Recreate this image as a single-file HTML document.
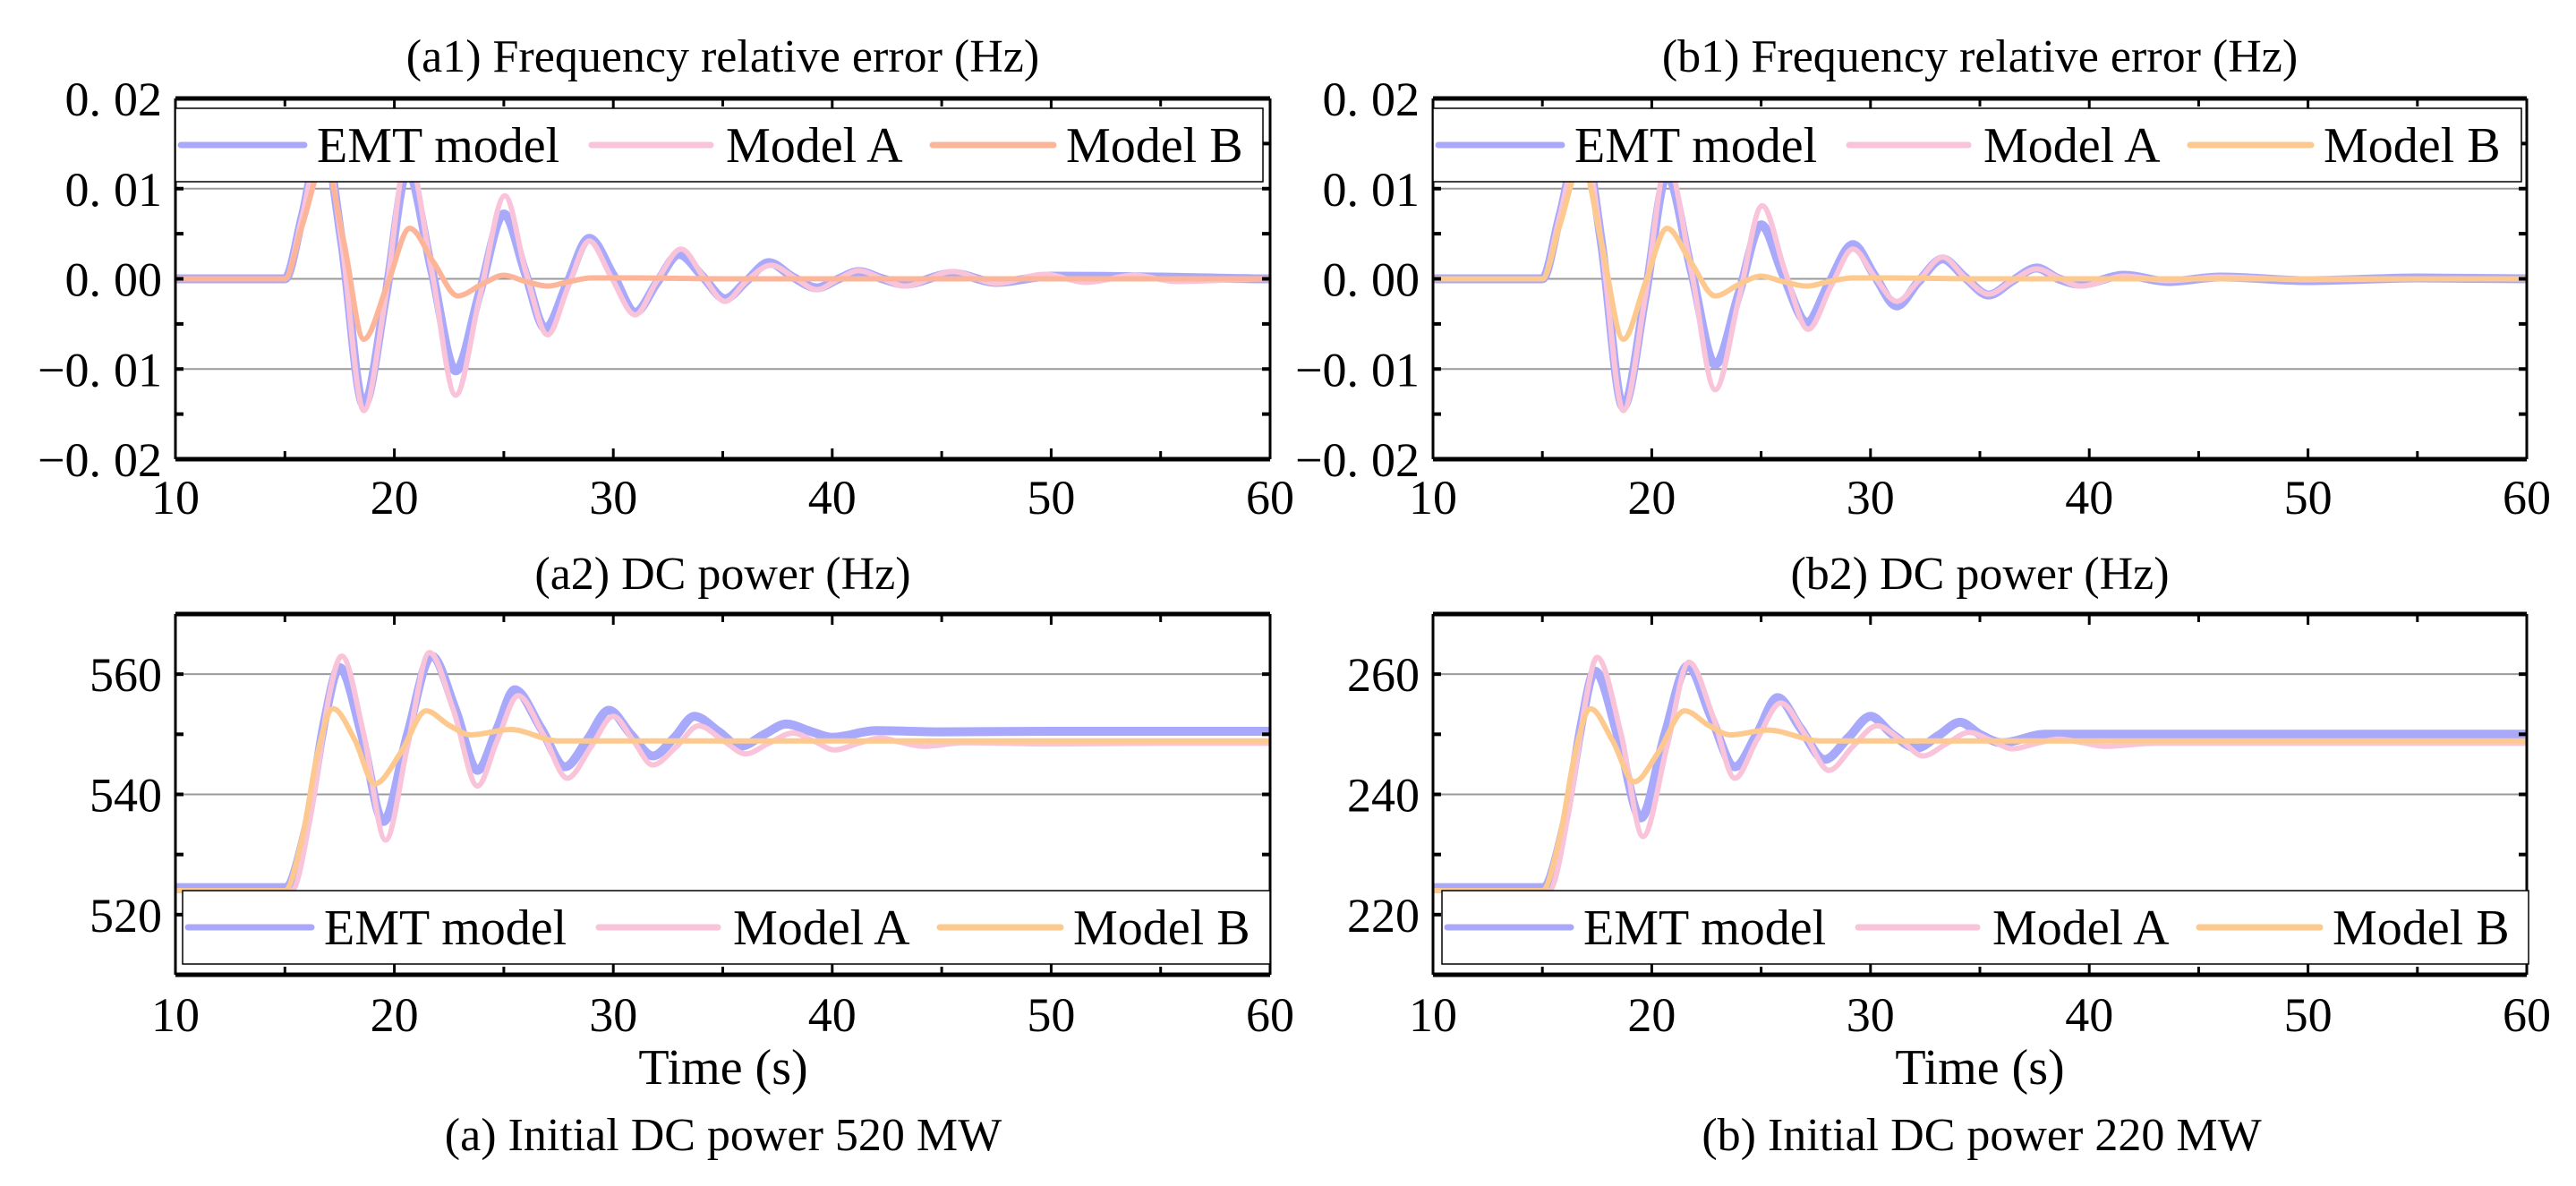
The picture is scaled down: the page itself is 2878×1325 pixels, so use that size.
<!DOCTYPE html>
<html><head><meta charset="utf-8">
<style>
html,body{margin:0;padding:0;background:#fff;}
svg, svg text{font-family:"Liberation Serif","Times New Roman",Times,serif;}
</style></head>
<body>
<svg id="fig" width="2878" height="1320" viewBox="0 0 2878 1320" xmlns="http://www.w3.org/2000/svg" font-family="Liberation Serif, serif"></svg>
<script>
// ---------- data ----------
const xTicks = [10,20,30,40,50,60];
const freqTicks = [-0.02,-0.01,0.00,0.01,0.02];
const freqTickLabels = ["\u22120.02","\u22120.01","0.00","0.01","0.02"];
const powATicks = [520,540,560];
const powBTicks = [220,240,260];
const seriesNames = ["EMT model","Model A","Model B"];

// (a1) frequency error, 520 MW
const a1EmtT = [10,14,15,15.8,16.7,17.6,18.6,19.6,20.6,21.7,22.8,23.9,25,26,26.9,27.9,28.9,30,31,32,33,34.1,35.1,36.1,37.1,38.2,39.3,40.3,41.2,42.3,43.3,45.5,47.5,50,55,60];
const a1EmtV = [0,0,0,0.007,0.016,0.004,-0.014,-0.002,0.012,0.001,-0.0102,-0.0015,0.0072,0.0005,-0.0055,-0.0005,0.0045,0.0004,-0.0037,-0.0004,0.0027,0.0002,-0.0022,-0.0002,0.0018,0.0002,-0.001,0,0.0008,0,-0.0006,0.0006,-0.0004,0.0003,0.0002,0];
const a1AT = [10,14,15,15.8,16.7,17.6,18.6,19.6,20.6,21.7,22.8,23.9,25.05,26,27,27.95,28.9,29.9,31,32,33.1,34.1,35.1,36.1,37.2,38.3,39.3,40.3,41.2,42.3,43.3,45.5,47.5,49.7,51.6,53.8,55.7,60];
const a1AV = [0,0,0,0.007,0.016,0.004,-0.0146,-0.002,0.014,0.001,-0.0129,-0.002,0.0092,0.0008,-0.0062,-0.0008,0.0042,0.0002,-0.004,-0.0002,0.0033,0.0003,-0.0025,-0.0002,0.0015,0.0001,-0.0012,0,0.0009,0,-0.0008,0.0008,-0.0005,0.0005,-0.0004,0.0004,-0.0003,0];
const a1BT = [10,14,15,15.8,16.8,17.7,18.6,19.7,20.7,21.8,22.9,24,25,26,27,28,29,31,35,60];
const a1BV = [0,0,0,0.006,0.013,0.004,-0.0067,-0.0005,0.0056,0.0018,-0.0019,-0.0006,0.0004,-0.0003,-0.0008,-0.0003,0.0001,0.0001,0,0];

// (b1) frequency error, 220 MW
const b1EmtT = [10,14,15,15.8,16.8,17.7,18.7,19.7,20.7,21.8,22.9,24,25,26,27.1,28.1,29.2,30.2,31.2,32.2,33.3,34.3,35.4,36.5,37.6,38.6,39.6,41.6,43.6,46,50,55,60];
const b1EmtV = [0,0,0,0.007,0.016,0.004,-0.0142,-0.002,0.0115,0.001,-0.0095,-0.0015,0.006,0.0005,-0.0048,-0.0005,0.0038,0.0003,-0.003,-0.0003,0.0022,0.0002,-0.0018,-0.0002,0.0012,0,-0.0006,0.0004,-0.0003,0.0002,-0.0002,0.0001,0];
const b1AT = [10,14,15,15.8,16.8,17.7,18.7,19.7,20.7,21.8,22.9,24,25.05,26.1,27.15,28.2,29.2,30.2,31.2,32.2,33.3,34.3,35.4,36.5,37.6,38.6,39.6,41.6,43.6,46,50,55,60];
const b1AV = [0,0,0,0.007,0.016,0.004,-0.0146,-0.002,0.013,0.001,-0.0123,-0.002,0.0081,0.0008,-0.0056,-0.0008,0.0033,0.0002,-0.0025,-0.0002,0.0024,0.0002,-0.0017,-0.0002,0.0011,0.0001,-0.0008,0.0003,-0.0002,0.0002,-0.0001,0,0];
const b1BT = [10,14,15,15.8,16.8,17.7,18.7,19.7,20.7,21.8,22.9,24,25,26,27.1,28.1,29.2,31,35,60];
const b1BV = [0,0,0,0.006,0.013,0.004,-0.0067,-0.0005,0.0056,0.0018,-0.0019,-0.0006,0.0003,-0.0003,-0.0008,-0.0003,0.0001,0.0001,0,0];

// (a2) DC power, 520 MW
const a2EmtT = [10,13,15,16,16.8,17.5,18.5,19.5,20.6,21.7,22.8,23.8,24.7,25.5,26.7,27.8,28.8,29.8,30.8,31.8,32.8,33.7,34.8,35.8,36.9,37.9,39,40,42,45,50,55,60];
const a2EmtV = [524.5,524.5,524.5,535,552,561.1,550,535.5,550,563,554,544,551,557.4,551,544.6,549,554,550,546.4,549.5,553,550.5,548,550,551.7,550.5,549.5,550.6,550.4,550.5,550.5,550.5];
const a2AT = [10,13,15.3,16.2,17,17.6,18.6,19.6,20.6,21.6,22.7,23.8,24.7,25.65,26.8,27.9,29,30,30.9,31.8,32.9,33.9,35,36.05,37.1,38.2,39.2,40.1,41.2,42.2,43.2,44.2,46,50,55,60];
const a2AV = [524,524,524,537,556,563,550,532.4,548,563.6,554,541.4,549,556.4,550,542.7,548,553,549,544.9,548,551.4,549,546.75,548.5,550.2,548.8,547.4,548.5,549.4,548.6,548,548.6,548.4,548.5,548.5];
const a2BT = [10,13,15,15.8,16.5,17.2,18.2,19.1,20.3,21.45,22.5,23.5,25.3,27.5,30,40,60];
const a2BV = [524,524,524,533,547,554.25,549,541.75,547,553.9,551.5,549.9,550.8,548.9,548.9,548.9,548.9];

// (b2) DC power, 220 MW
const b2EmtT = [10,13,15,16,16.8,17.4,18.5,19.5,20.6,21.65,22.7,23.8,24.8,25.75,26.8,27.9,29,30,31,32.1,33.1,34.1,35,36,38,40,45,50,55,60];
const b2EmtV = [224.5,224.5,224.5,235,252,260.5,249,236.1,250,261.4,253,244.6,250,256.1,251,245.8,249.5,253,250,247.7,249.8,252,250,248.6,250,250,250,250,250,250];
const b2AT = [10,13,15.3,16.2,17,17.5,18.6,19.6,20.7,21.7,22.8,23.8,24.8,25.9,27,28.1,29.2,30.3,31.4,32.4,33.5,34.5,35.5,36.5,37.6,38.6,39.7,40.7,43,50,55,60];
const b2AV = [224,224,224,237,256,262.8,250,233,248,262,253,242.7,249,255.2,250,244,248,251.4,249,246.4,248.5,250.3,249,247.6,248.5,249.2,248.6,248,248.5,248.5,248.5,248.5];
const b2BT = [10,13,15,15.8,16.5,17.2,18.2,19.2,20.3,21.5,22.6,23.6,25.3,27.7,30,40,60];
const b2BV = [224,224,224,233,247,254.25,249,242.1,247,253.9,251.5,249.9,250.7,248.9,248.9,248.9,248.9];

// ---------- drawing ----------
const NS = "http://www.w3.org/2000/svg";
const svg = document.getElementById('fig');
const FONT = '"Liberation Serif", "Times New Roman", serif';
function mk(tag, attrs, parent){
  const e = document.createElementNS(NS, tag);
  for (const k in attrs) e.setAttribute(k, attrs[k]);
  if (tag === 'text') e.setAttribute('style', 'font-family:' + FONT);
  (parent||svg).appendChild(e);
  return e;
}
// cubic Hermite through points; zero slope at extrema / flats to avoid overshoot
function smoothPath(pts){
  const n = pts.length;
  const m = pts.map((p,i) => {
    if (i===0 || i===n-1) return 0;
    const d1 = p[1]-pts[i-1][1], d2 = pts[i+1][1]-p[1];
    if (d1*d2 <= 0) return 0;
    return (pts[i+1][1]-pts[i-1][1])/(pts[i+1][0]-pts[i-1][0]);
  });
  let d = "M" + pts[0][0].toFixed(1) + "," + pts[0][1].toFixed(1);
  for (let i=0;i<n-1;i++){
    const h = pts[i+1][0]-pts[i][0];
    const c1x = pts[i][0]+h/3, c1y = pts[i][1]+m[i]*h/3;
    const c2x = pts[i+1][0]-h/3, c2y = pts[i+1][1]-m[i+1]*h/3;
    d += " C"+c1x.toFixed(1)+","+c1y.toFixed(1)+" "+c2x.toFixed(1)+","+c2y.toFixed(1)+" "+pts[i+1][0].toFixed(1)+","+pts[i+1][1].toFixed(1);
  }
  return d;
}
const EMT_C = "#a9a9fb", A_C = "#f9c3da", B1_C = "#fdb59a", B_C = "#fdc98f";

function panel(cfg){
  const g = mk('g', {});
  
  
  const {L,R,T,B,ymin,ymax} = cfg;
  const xs = t => L + (t-10)/50*(R-L);
  const ys = v => B - (v-ymin)/(ymax-ymin)*(B-T);
  const title = mk('text', {x:(L+R)/2, y:cfg.titleY, 'font-size':52, 'text-anchor':'middle'}, g);
  title.textContent = cfg.title;
  
  
  const cp = mk('clipPath', {id:'clip-'+cfg.id}, g);
  mk('rect', {x:L, y:T, width:R-L, height:B-T}, cp);
  cfg.grid.forEach(v => {
    const gl = mk('line', {x1:L, x2:R, y1:ys(v), y2:ys(v), stroke:'#9a9a9a', 'stroke-width':2}, g);
    
    
  });
  const cg = mk('g', {'clip-path':'url(#clip-'+cfg.id+')'}, g);
  cfg.series.forEach(s => {
    const pts = s.t.map((t,i)=>[xs(t), ys(s.v[i])]);
    const p = mk('path', {d:smoothPath(pts), fill:'none', stroke:s.color, 'stroke-width':s.w, 'stroke-linejoin':'round', 'stroke-linecap':'round'}, cg);
    
    
  });
  mk('line', {x1:L, x2:R, y1:T, y2:T, stroke:'#000', 'stroke-width':5}, g);
  mk('line', {x1:L, x2:R, y1:B, y2:B, stroke:'#000', 'stroke-width':5}, g);
  mk('line', {x1:L, x2:L, y1:T, y2:B, stroke:'#000', 'stroke-width':3}, g);
  mk('line', {x1:R, x2:R, y1:T, y2:B, stroke:'#000', 'stroke-width':3}, g);
  for (let t=10;t<=60;t+=5){
    const len = (t%10===0)?12:9;
    mk('line', {x1:xs(t), x2:xs(t), y1:B, y2:B-len, stroke:'#000', 'stroke-width':3}, g);
    mk('line', {x1:xs(t), x2:xs(t), y1:T, y2:T+len, stroke:'#000', 'stroke-width':3}, g);
  }
  xTicks.forEach(t => {
    const tx = mk('text', {x:xs(t), y:cfg.xLabY, 'font-size':54, 'text-anchor':'middle'}, g);
    tx.textContent = String(t);
    
    
  });
  const step = (cfg.yTicks[1]-cfg.yTicks[0])/2;
  for (let v=ymin; v<=ymax+1e-9; v+=step){
    mk('line', {x1:L, x2:L+9, y1:ys(v), y2:ys(v), stroke:'#000', 'stroke-width':4}, g);
    mk('line', {x1:R, x2:R-9, y1:ys(v), y2:ys(v), stroke:'#000', 'stroke-width':4}, g);
  }
  cfg.yTicks.forEach((v,i) => {
    const ty = mk('text', {x:L-15, y:ys(v)+19, 'font-size':54, 'text-anchor':'end'}, g);
    if (cfg.yLabels){
      const s = cfg.yLabels[i];
      const k = s.indexOf('.');
      ty.appendChild(document.createTextNode(s.slice(0,k+1)));
      const sp = mk('tspan', {dx:14}, ty);
      sp.textContent = s.slice(k+1);
    } else ty.textContent = String(v);
    
    
  });
  const lg = mk('g', {}, g);
  
  
  mk('rect', {x:cfg.lgX, y:cfg.lgY, width:cfg.lgW, height:82, fill:'#fff', stroke:'#000', 'stroke-width':1.5}, lg);
  const offs = [[6,144,158],[465,598,615],[846,981,995]];
  cfg.series.forEach((s,i) => {
    const e = mk('g', {}, lg);
    
    
    const ly = cfg.lgY + 41;
    mk('line', {x1:cfg.lgX+offs[i][0], x2:cfg.lgX+offs[i][1], y1:ly, y2:ly, stroke:s.color, 'stroke-width':7, 'stroke-linecap':'round'}, e);
    const t = mk('text', {x:cfg.lgX+offs[i][2], y:ly+19, 'font-size':56}, e);
    t.textContent = seriesNames[i];
  });
}

function mkSeries(et,ev,at,av,bt,bv,bc){
  return [
    {name:'emt-model', t:et, v:ev, color:EMT_C, w:10},
    {name:'model-a', t:at, v:av, color:A_C, w:6},
    {name:'model-b', t:bt, v:bv, color:bc, w:6}
  ];
}

panel({id:'a1', title:'(a1) Frequency relative error (Hz)', titleY:80, L:196,R:1419,T:110,B:513, ymin:-0.02,ymax:0.02,
  grid:[-0.01,0,0.01], yTicks:freqTicks, yLabels:freqTickLabels, xLabY:574,
  lgX:196, lgY:121, lgW:1215, series:mkSeries(a1EmtT,a1EmtV,a1AT,a1AV,a1BT,a1BV,B1_C)});
panel({id:'b1', title:'(b1) Frequency relative error (Hz)', titleY:80, L:1601,R:2823,T:110,B:513, ymin:-0.02,ymax:0.02,
  grid:[-0.01,0,0.01], yTicks:freqTicks, yLabels:freqTickLabels, xLabY:574,
  lgX:1601, lgY:121, lgW:1216, series:mkSeries(b1EmtT,b1EmtV,b1AT,b1AV,b1BT,b1BV,B_C)});
panel({id:'a2', title:'(a2) DC power (Hz)', titleY:658, L:196,R:1419,T:686,B:1089, ymin:510,ymax:570,
  grid:[540,560], yTicks:powATicks, xLabY:1152,
  lgX:204, lgY:995, lgW:1215, series:mkSeries(a2EmtT,a2EmtV,a2AT,a2AV,a2BT,a2BV,B_C)});
panel({id:'b2', title:'(b2) DC power (Hz)', titleY:658, L:1601,R:2823,T:686,B:1089, ymin:210,ymax:270,
  grid:[240,260], yTicks:powBTicks, xLabY:1152,
  lgX:1611, lgY:995, lgW:1214, series:mkSeries(b2EmtT,b2EmtV,b2AT,b2AV,b2BT,b2BV,B_C)});

[[808,'a'],[2212,'b']].forEach(([cx,k]) => {
  const xt = mk('text', {x:cx, y:1211, 'font-size':56, 'text-anchor':'middle'});
  xt.textContent = 'Time (s)';
  
  
});
const capA = mk('text', {x:808, y:1285, 'font-size':52, 'text-anchor':'middle'});
capA.textContent = '(a) Initial DC power 520 MW';


const capB = mk('text', {x:2214, y:1285, 'font-size':52, 'text-anchor':'middle'});
capB.textContent = '(b) Initial DC power 220 MW';


</script>
</body></html>
